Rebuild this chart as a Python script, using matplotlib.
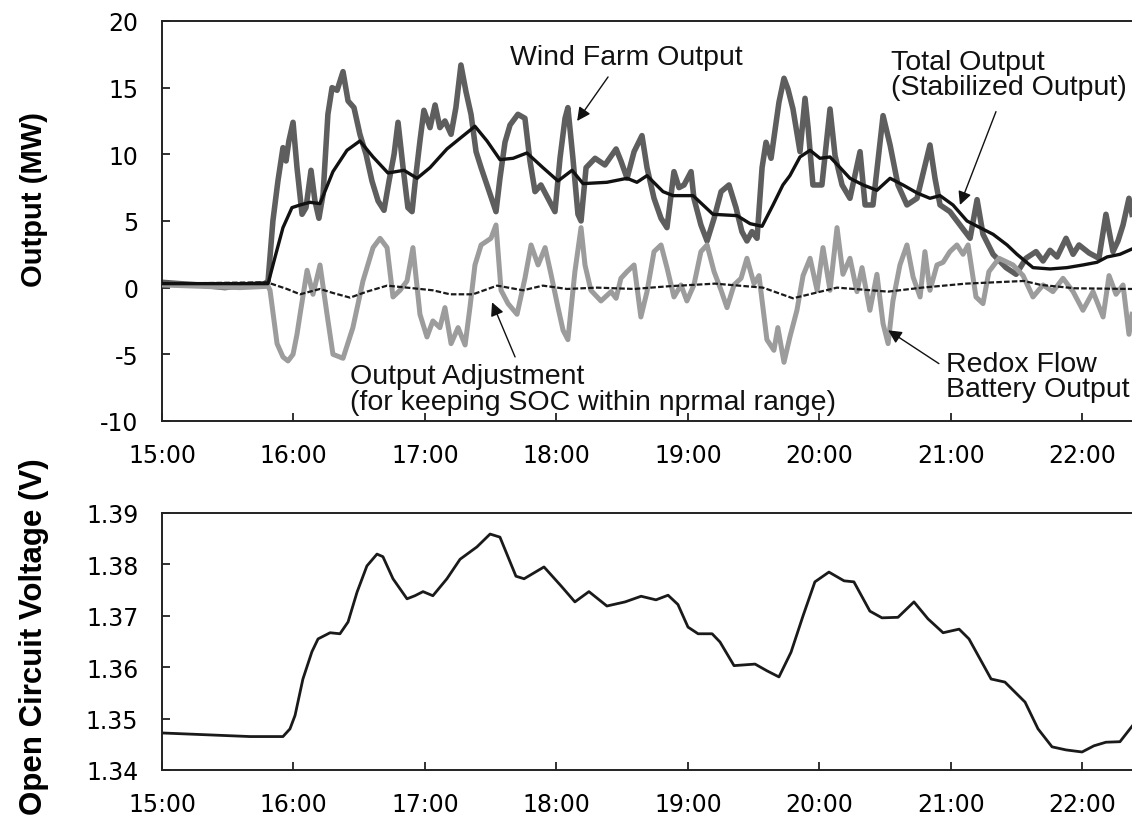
import matplotlib
matplotlib.use('Agg')
import matplotlib.pyplot as plt
import numpy as np

# times are minutes after 15:00
wind_min = [0, 8.2, 17.3, 28.7, 37.9, 47.0, 48.4, 50.6, 52.9, 55.2, 56.6, 57.9, 59.8, 61.6, 63.9,
            65.7, 68.0, 69.8, 71.6, 73.5, 75.7, 77.6, 79.9, 82.6, 84.9, 87.6, 90.3, 93.1, 95.8,
            98.6, 101.3, 103.6, 105.9, 107.7, 110.0, 112.2, 114.1, 115.9, 117.7, 119.5, 122.3,
            124.6, 126.8, 129.1, 131.9, 134.1, 136.4, 138.7, 141.0, 143.3, 145.6, 148.7, 152.4,
            154.2, 156.5, 158.8, 162.4, 165.6, 167.9, 170.2, 172.9, 176.1, 179.3, 181.6, 183.9,
            185.2, 187.5, 189.8, 191.2, 193.5, 197.6, 202.1, 207.2, 209.4, 212.2, 215.4, 219.0,
            221.3, 224.5, 227.7, 230.4, 233.6, 235.9, 238.2, 241.4, 242.7, 245.9, 248.7, 251.9,
            255.1, 258.7, 261.9, 264.6, 266.9, 269.2, 271.5, 273.8, 275.6, 277.9, 279.2, 281.5,
            283.8, 285.6, 287.9, 291.1, 293.4, 294.8, 297.0, 301.1, 304.8, 307.1, 310.3, 313.9,
            318.5, 320.8, 324.4, 329.0, 332.2, 335.8, 339.9, 344.5, 350.4, 352.7, 355.0, 359.5,
            364.1, 368.7, 371.9, 374.6, 379.2, 385.1, 389.7, 394.2, 398.8, 402.0, 405.2, 408.4,
            412.5, 415.7, 418.4, 423.0, 427.5, 430.7, 433.9, 436.2, 438.5, 441.2, 442.6]
wind_mw = [0.4, 0.3, 0.2, 0.0, 0.2, 0.3, 0.5, 5.0, 8.0, 10.5, 9.5, 11.0, 12.4, 9.0, 5.5,
           6.0, 8.8, 6.5, 5.2, 7.0, 13.0, 15.0, 14.8, 16.2, 14.0, 13.5, 11.5, 10.0, 8.0,
           6.5, 5.8, 8.0, 10.0, 12.4, 9.0, 6.0, 5.7, 8.5, 11.0, 13.3, 12.0,
           13.7, 12.0, 12.5, 11.5, 13.5, 16.7, 14.7, 13.0, 10.2, 9.0, 7.5, 5.7,
           8.2, 10.9, 12.2, 13.0, 12.7, 9.5, 7.2, 7.7, 6.7, 5.7, 9.7, 12.7,
           13.5, 9.7, 5.5, 5.0, 9.0, 9.7, 9.2, 10.4, 9.5, 8.2, 10.2, 11.4,
           9.0, 6.7, 5.2, 4.5, 8.7, 7.5, 7.7, 8.7, 6.7, 4.7, 3.5, 5.2,
           7.2, 7.7, 6.0, 4.2, 3.5, 4.2, 3.7, 9.0, 10.9, 9.7, 11.2, 13.9,
           15.7, 14.9, 13.4, 10.2, 14.2, 12.0, 7.7, 7.7, 13.4, 9.9, 7.7, 6.7,
           10.2, 6.2, 6.2, 12.9, 10.7, 7.7, 6.2, 6.7, 10.7, 8.2, 6.2, 5.7,
           4.7, 3.7, 6.6, 4.0, 2.5, 1.5, 1.0, 2.2, 2.7, 2.0, 2.8, 2.3,
           3.7, 2.5, 3.2, 2.6, 2.2, 5.5, 2.7, 3.5, 4.7, 6.7, 5.5]

total_min = [0, 48.4, 51.6, 55.2, 59.3, 63.0, 67.5, 72.1, 78.0, 84.4, 90.3, 96.3, 103.1, 110.4,
             116.4, 122.3, 130.0, 136.0, 142.8, 148.3, 154.2, 160.2, 166.5, 173.8, 180.7, 187.1,
             192.1, 203.0, 212.2, 216.7, 221.3, 228.6, 233.2, 242.3, 251.4, 262.4, 268.3, 273.8,
             278.8, 283.3, 286.5, 291.1, 295.7, 300.2, 304.8, 309.4, 313.9, 319.9, 326.2, 332.2,
             338.1, 344.5, 350.4, 355.0, 360.9, 367.3, 373.2, 379.2, 385.6, 390.1, 397.4, 405.2,
             412.9, 420.2, 426.6, 431.2, 437.1, 442.6]
total_mw = [0.3, 0.3, 2.3, 4.5, 6.0, 6.2, 6.4, 6.3, 8.7, 10.3, 11.0, 9.8, 8.6, 8.8,
            8.2, 9.0, 10.4, 11.2, 12.1, 11.0, 9.6, 9.7, 10.1, 9.0, 8.0, 8.8,
            7.8, 7.9, 8.2, 7.9, 8.4, 7.2, 6.9, 6.9, 5.5, 5.4, 4.8, 4.6,
            6.2, 7.7, 8.4, 9.8, 10.3, 9.7, 9.8, 9.0, 8.2, 7.7, 7.3, 8.2,
            7.7, 7.1, 6.7, 6.9, 6.2, 5.0, 4.5, 4.0, 3.2, 2.5, 1.5, 1.4,
            1.5, 1.7, 1.9, 2.3, 2.5, 2.9]

battery_min = [0, 17.3, 35.6, 48.4, 49.3, 52.5, 55.2, 57.5, 59.8, 61.6, 63.0, 66.2, 68.9, 72.1,
               75.3, 78.0, 82.6, 87.1, 91.7, 96.3, 99.5, 102.7, 105.4, 108.6, 111.8, 114.5,
               117.7, 120.9, 123.6, 126.8, 129.1, 131.9, 135.1, 138.3, 140.5, 142.8, 145.6,
               150.1, 152.4, 154.7, 157.9, 162.0, 165.6, 168.4, 171.6, 174.8, 177.5, 180.7,
               183.0, 185.2, 188.4, 191.2, 193.0, 195.7, 200.3, 204.9, 207.2, 209.4, 212.2,
               215.4, 218.5, 221.3, 224.5, 227.7, 230.4, 233.6, 236.8, 239.5, 242.7, 245.9,
               248.7, 251.9, 255.1, 257.8, 261.0, 264.2, 266.9, 270.1, 272.4, 274.7, 276.0,
               279.2, 281.0, 283.8, 286.5, 289.7, 292.5, 295.7, 298.9, 301.6, 304.8, 308.0,
               310.7, 313.9, 317.1, 319.4, 323.0, 326.2, 329.0, 331.3, 333.5, 336.7, 339.9,
               342.7, 345.9, 348.1, 350.4, 353.6, 356.4, 359.5, 362.7, 365.5, 367.8, 371.4,
               374.6, 377.3, 381.9, 388.3, 392.9, 397.4, 402.0, 406.5, 411.1, 415.7, 420.2,
               424.8, 429.4, 432.1, 435.3, 438.5, 441.2, 442.6]
battery_mw = [0.2, 0.1, 0.0, 0.1, -0.2, -4.2, -5.2, -5.5, -5.0, -3.5, -2.0, 1.3, -0.5, 1.7,
              -2.0, -5.0, -5.3, -3.0, 0.5, 3.0, 3.7, 3.0, -0.7, -0.2, 0.5, 3.0,
              -2.0, -3.7, -2.5, -3.0, -1.5, -4.2, -3.0, -4.3, -1.5, 1.7, 3.2,
              3.7, 4.7, -0.2, -1.2, -2.0, 0.7, 3.2, 1.7, 3.0, 1.0, -1.5,
              -3.2, -3.9, 1.2, 4.5, 1.7, -0.2, -1.0, -0.3, -0.8, 0.7, 1.2,
              1.7, -2.2, -0.3, 2.7, 3.2, 1.5, -0.7, 0.2, -1.0, 0.2, 2.7,
              3.2, 1.2, -0.2, -1.5, 0.2, 0.7, 2.2, 0.3, 0.9, -2.2, -3.9,
              -4.7, -3.0, -5.6, -3.7, -1.7, 0.9, 2.2, -0.2, 3.0, -0.2, 4.5,
              1.0, 2.2, -0.3, 1.5, -1.7, 1.0, -2.7, -4.2, -1.0, 1.7, 3.2,
              0.8, -0.7, 2.7, -0.2, 1.7, 1.9, 2.7, 3.2, 2.5, 3.2, -0.7,
              -1.2, 1.2, 2.2, 1.7, 0.9, -0.7, 0.2, -0.3, 0.7, -0.3, -1.7,
              -0.3, -2.2, 0.9, -0.5, 0.2, -3.5, -2.0]

adjust_min = [0, 47.9, 57.0, 63.0, 72.1, 78.0, 85.8, 93.5, 102.7, 111.8, 123.6, 131.4, 141.9,
              152.9, 164.7, 173.8, 184.8, 198.5, 215.4, 230.9, 252.3, 274.2, 287.9, 308.0,
              331.3, 346.8, 366.8, 393.3, 401.1, 416.6, 442.6]
adjust_mw = [0.3, 0.4, -0.1, -0.5, -0.1, -0.4, -0.75, -0.3, 0.15, 0.0, -0.2, -0.5, -0.5,
             0.15, -0.2, 0.15, -0.1, 0.0, -0.1, 0.1, 0.3, 0.0, -0.8, 0.0,
             -0.3, 0.0, 0.3, 0.5, 0.2, -0.05, -0.1]

ocv_min = [0, 17.3, 40.2, 55.2, 58.4, 60.7, 64.3, 68.4, 71.2, 76.7, 81.2, 84.9, 89.0, 93.5,
           98.1, 100.8, 105.4, 111.8, 115.4, 119.1, 123.6, 130.0, 136.0, 143.7, 149.7, 154.2,
           161.5, 165.2, 174.3, 182.1, 188.4, 194.8, 203.0, 211.3, 218.6, 225.4, 230.9, 235.4,
           240.0, 244.6, 251.0, 254.6, 261.0, 270.6, 276.0, 281.5, 287.0, 292.5, 297.9, 304.3,
           311.2, 315.7, 323.0, 328.5, 335.8, 343.1, 349.5, 356.4, 363.7, 368.2, 378.3, 384.6,
           393.8, 399.7, 406.1, 412.5, 419.8, 425.2, 430.7, 437.1, 442.6]
ocv_v = [1.3472, 1.3469, 1.3465, 1.3465, 1.3480, 1.3506, 1.3577, 1.3630, 1.3655, 1.3667,
         1.3665, 1.3688, 1.3746, 1.3797, 1.3820, 1.3815, 1.3772, 1.3733, 1.3739, 1.3747,
         1.3739, 1.3772, 1.3810, 1.3834, 1.3859, 1.3853, 1.3777, 1.3772, 1.3795, 1.3758,
         1.3727, 1.3747, 1.3719, 1.3727, 1.3738, 1.3731, 1.3740, 1.3722, 1.3678, 1.3665,
         1.3665, 1.3649, 1.3603, 1.3606, 1.3593, 1.3581, 1.3629, 1.3700, 1.3766, 1.3785,
         1.3768, 1.3766, 1.3709, 1.3696, 1.3697, 1.3727, 1.3694, 1.3667, 1.3674, 1.3655,
         1.3577, 1.3571, 1.3532, 1.3480, 1.3445, 1.3439, 1.3435, 1.3447, 1.3454, 1.3455,
         1.3485]

hour_ticks = [15, 16, 17, 18, 19, 20, 21, 22]
hour_labels = ['15:00', '16:00', '17:00', '18:00', '19:00', '20:00', '21:00', '22:00']


def hours(m):
    return 15 + np.array(m) / 60.0


tick_font = 'DejaVu Sans'
note_font = 'Liberation Sans'

fig = plt.figure(figsize=(11.32, 8.29), dpi=100)
ax1 = fig.add_axes([0.1431, 0.4910, 0.8569, 0.4825])
ax2 = fig.add_axes([0.1431, 0.0700, 0.8569, 0.3100])

ax1.plot(hours(wind_min), wind_mw, color='#5e5e5e', lw=4.0, solid_joinstyle='round', zorder=2)
ax1.plot(hours(battery_min), battery_mw, color='#9c9c9c', lw=3.6, solid_joinstyle='round', zorder=3)
ax1.plot(hours(adjust_min), adjust_mw, color='#1a1a1a', lw=1.6, ls=(0, (2.5, 1)), zorder=4)
ax1.plot(hours(total_min), total_mw, color='#111111', lw=2.4, zorder=5)

ax2.plot(hours(ocv_min), ocv_v, color='#1a1a1a', lw=2.0)

xmax = 15 + (1132 - 162) / 131.5
for ax in (ax1, ax2):
    ax.set_xlim(15, xmax)
    ax.set_xticks(hour_ticks)
    ax.set_xticklabels(hour_labels, family=tick_font, fontsize=17)
    ax.spines['right'].set_visible(False)
    for s in ('left', 'bottom', 'top'):
        ax.spines[s].set_linewidth(1.4)
        ax.spines[s].set_color('#222222')
    ax.tick_params(direction='in', length=6, width=1.3, color='#222222', labelsize=17)
    ax.tick_params(axis='x', pad=16)
    ax.tick_params(axis='y', pad=17)
    for lab in ax.get_yticklabels():
        lab.set_family(tick_font)

ax1.set_ylim(-10, 20)
ax1.set_yticks([-10, -5, 0, 5, 10, 15, 20])
ax1.set_yticklabels(['-10', '-5', '0', '5', '10', '15', '20'], family=tick_font, fontsize=17)

ax2.set_ylim(1.34, 1.39)
ax2.set_yticks([1.34, 1.35, 1.36, 1.37, 1.38, 1.39])
ax2.set_yticklabels(['1.34', '1.35', '1.36', '1.37', '1.38', '1.39'], family=tick_font, fontsize=17)

fig.text(0.030, 0.759, 'Output (MW)', rotation=90, ha='center', va='center',
         family=note_font, fontweight='bold', fontsize=21)
fig.text(0.030, 0.232, 'Open Circuit Voltage (V)', rotation=90, ha='center', va='center',
         family=note_font, fontweight='bold', fontsize=22.5)

note = dict(family=note_font, fontsize=20.5, color='#111111', clip_on=False)
ax1.text(17.647, 17.3, 'Wind Farm Output', ha='left', va='center', **note)
ax1.text(20.544, 15.97, 'Total Output\n(Stabilized Output)', ha='left', va='center',
         linespacing=0.95, **note)
ax1.text(16.43, -7.61, 'Output Adjustment\n(for keeping SOC within nprmal range)', ha='left',
         va='center', linespacing=1.0, **note)
ax1.text(20.962, -6.64, 'Redox Flow\nBattery Output', ha='left', va='center',
         linespacing=0.95, **note)

arrow = dict(arrowstyle='-|>', color='#111111', lw=1.0, mutation_scale=20, shrinkA=0, shrinkB=0)
ax1.annotate('', xy=(18.157, 12.5), xytext=(18.392, 15.8), arrowprops=arrow)
ax1.annotate('', xy=(21.068, 6.2), xytext=(21.342, 13.2), arrowprops=arrow)
ax1.annotate('', xy=(17.51, -1.1), xytext=(17.685, -5.2), arrowprops=arrow)
ax1.annotate('', xy=(20.522, -3.2), xytext=(20.908, -5.7), arrowprops=arrow)

fig.savefig('out.png', dpi=100)
